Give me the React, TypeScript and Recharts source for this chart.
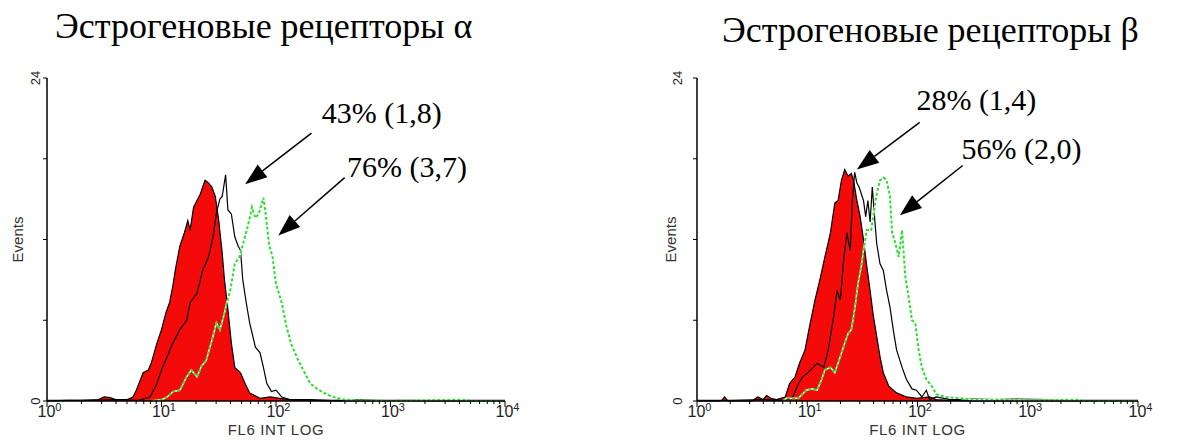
import { ComposedChart, Area, Line, XAxis, YAxis, ReferenceLine, ReferenceDot } from 'recharts'

type Pt = [number, number]

// x = log10 of FL6 intensity (0..4 decades), y = events
const alphaControl: Pt[] = [
  [0, 0], [0.17, 0.05], [0.3, 0.05], [0.45, 0.1], [0.5, 0.3], [0.55, 0.25], [0.6, 0.1], [0.7, 0.1],
  [0.75, 0.3], [0.78, 0.8], [0.84, 2.1], [0.885, 2.3], [0.91, 2.8], [0.96, 4.3], [1.0, 5.3], [1.04, 6.6],
  [1.07, 7.3], [1.1, 8.6], [1.12, 9.7], [1.16, 11.5], [1.2, 12.5], [1.23, 13.4], [1.25, 12.7], [1.28, 14.4],
  [1.31, 14.9], [1.34, 15.4], [1.38, 16.4], [1.41, 16.2], [1.44, 15.9], [1.47, 15.2], [1.5, 13.4], [1.53, 11.0],
  [1.55, 9.0], [1.58, 6.8], [1.61, 4.3], [1.64, 2.5], [1.69, 2.1], [1.73, 1.3], [1.77, 0.6], [1.86, 0.2],
  [1.95, 0.3], [2.03, 0.2], [2.12, 0.1], [2.3, 0.05], [2.5, 0], [4, 0],
]
const alphaLow: Pt[] = [
  [0, 0.05], [0.2, 0.05], [0.4, 0.05], [0.6, 0.1], [0.8, 0.05], [0.9, 0.3], [0.96, 1.3], [1.0, 2.3],
  [1.05, 3.3], [1.1, 4.3], [1.16, 5.3], [1.22, 6.0], [1.25, 7.3], [1.31, 8.0], [1.36, 9.7], [1.41, 10.7],
  [1.45, 12.2], [1.48, 14.0], [1.51, 15.0], [1.53, 15.2], [1.56, 16.8], [1.58, 14.2], [1.61, 13.9], [1.64, 12.2],
  [1.67, 11.5], [1.69, 11.2], [1.71, 9.0], [1.74, 7.3], [1.77, 5.8], [1.82, 4.0], [1.86, 3.6], [1.89, 2.5],
  [1.92, 1.3], [1.96, 0.7], [2.0, 0.8], [2.05, 0.3], [2.12, 0.1], [2.3, 0.1], [2.5, 0.05], [2.7, 0.1],
  [2.9, 0.05], [3.2, 0.05], [3.6, 0.05], [4, 0.05],
]
const alphaHigh: Pt[] = [
  [0.9, 0], [1.0, 0.1], [1.05, 0.3], [1.1, 0.7], [1.16, 0.8], [1.22, 1.8], [1.26, 2.3], [1.31, 1.8],
  [1.35, 2.6], [1.39, 3.0], [1.44, 4.5], [1.48, 5.8], [1.51, 5.3], [1.54, 6.2], [1.57, 7.3], [1.6, 8.2],
  [1.64, 10.2], [1.68, 10.7], [1.72, 11.9], [1.76, 13.2], [1.79, 14.4], [1.82, 13.6], [1.85, 13.9], [1.89, 15.1],
  [1.91, 13.9], [1.94, 11.6], [1.97, 10.7], [2.0, 8.7], [2.05, 7.3], [2.09, 5.6], [2.13, 4.3], [2.19, 3.1],
  [2.25, 2.1], [2.3, 1.3], [2.36, 0.9], [2.42, 0.6], [2.47, 0.4], [2.52, 0.25], [2.6, 0.1], [2.7, 0.05],
  [3.0, 0], [3.6, 0.1], [3.7, 0], [4, 0],
]

const betaControl: Pt[] = [
  [0, 0], [0.22, 0], [0.25, 0.3], [0.28, 0], [0.5, 0], [0.55, 0.3], [0.6, 0.1], [0.63, 0.4], [0.67, 0.2],
  [0.72, 0.1], [0.8, 0.3], [0.84, 1.3], [0.89, 1.8], [0.93, 2.8], [0.98, 3.8], [1.02, 5.5], [1.07, 7.5],
  [1.12, 9.2], [1.16, 10.7], [1.21, 12.5], [1.25, 14.7], [1.28, 14.9], [1.31, 16.4], [1.34, 17.2], [1.37, 16.7],
  [1.4, 16.9], [1.42, 16.4], [1.45, 14.9], [1.48, 13.7], [1.51, 12.0], [1.54, 10.0], [1.57, 8.2], [1.6, 6.3],
  [1.63, 4.8], [1.66, 3.3], [1.69, 2.1], [1.74, 1.1], [1.81, 0.6], [1.9, 0.3], [1.99, 0.2], [2.11, 0.3],
  [2.17, 0.1], [2.3, 0.05], [2.5, 0], [4, 0],
]
const betaLow: Pt[] = [
  [0, 0.05], [0.3, 0.05], [0.6, 0.1], [0.8, 0.05], [0.87, 0.3], [0.92, 1.3], [0.96, 1.8], [1.02, 2.2],
  [1.09, 2.8], [1.15, 2.5], [1.19, 3.8], [1.24, 6.3], [1.27, 8.2], [1.3, 7.5], [1.33, 10.5], [1.36, 12.5],
  [1.39, 11.2], [1.41, 15.0], [1.43, 17.0], [1.45, 16.2], [1.47, 15.9], [1.51, 14.9], [1.53, 13.7], [1.55, 14.9],
  [1.57, 13.3], [1.59, 15.9], [1.61, 13.7], [1.63, 11.7], [1.66, 10.2], [1.69, 9.7], [1.72, 8.2], [1.75, 7.0],
  [1.78, 5.3], [1.81, 3.8], [1.86, 2.5], [1.9, 1.6], [1.95, 0.9], [1.99, 0.8], [2.04, 0.3], [2.08, 0.8],
  [2.11, 0.1], [2.17, 0.3], [2.3, 0.1], [2.5, 0.15], [2.7, 0.1], [2.9, 0.15], [3.2, 0.1], [3.5, 0.05], [4, 0.05],
]
const betaHigh: Pt[] = [
  [0.78, 0], [0.81, 0.2], [0.92, 0.2], [0.99, 0.8], [1.04, 0.9], [1.09, 0.8], [1.13, 1.6], [1.16, 2.3],
  [1.21, 2.5], [1.25, 2.1], [1.3, 3.3], [1.34, 4.3], [1.37, 5.0], [1.4, 5.3], [1.43, 6.8], [1.46, 8.7],
  [1.49, 10.0], [1.51, 11.2], [1.54, 12.7], [1.58, 12.7], [1.63, 15.4], [1.66, 16.4], [1.69, 16.6], [1.72, 16.4],
  [1.75, 15.2], [1.77, 12.5], [1.8, 11.7], [1.83, 10.7], [1.86, 12.7], [1.87, 11.5], [1.89, 9.2], [1.92, 7.7],
  [1.95, 6.0], [1.98, 5.8], [2.01, 3.8], [2.04, 2.5], [2.08, 1.6], [2.13, 1.1], [2.17, 0.5], [2.26, 0.3],
  [2.39, 0.2], [2.5, 0.1], [2.7, 0.1], [3.0, 0.05], [3.45, 0.1], [3.5, 0], [4, 0],
]

const titles = ['Эстрогеновые рецепторы α', 'Эстрогеновые рецепторы β']
const yTicks = [0, 6, 12, 18, 24]
const decades = [0, 1, 2, 3]
const xTicks = [...decades.flatMap((d) => [1, 2, 3, 4, 5, 6, 7, 8, 9].map((k) => d + Math.log10(k))), 4]

type Note = { text: string; at: Pt; from: Pt; to: Pt }
const alphaNotes: Note[] = [
  { text: '43% (1,8)', at: [2.4, 20.65], from: [2.31, 19.9], to: [1.73, 16.1] },
  { text: '76% (3,7)', at: [2.62, 16.64], from: [2.6, 16.6], to: [2.02, 12.3] },
]
const betaNotes: Note[] = [
  { text: '28% (1,4)', at: [1.99, 21.6], from: [2.02, 20.7], to: [1.45, 17.2] },
  { text: '56% (2,0)', at: [2.4, 18.0], from: [2.41, 17.5], to: [1.84, 13.8] },
]

const sans = 'Liberation Sans, Arial, sans-serif'
const serif = 'Liberation Serif, Times New Roman, serif'

function mergeSeries(series: Record<string, Pt[]>) {
  const map = new Map<number, Record<string, number>>()
  for (const [key, pts] of Object.entries(series)) {
    for (const [x, y] of pts) {
      const row = map.get(x) ?? { x }
      row[key] = y
      map.set(x, row)
    }
  }
  return [...map.values()].sort((a, b) => a.x - b.x)
}

function LogTick({ x, y, payload }: any) {
  const v = payload.value
  const major = Math.abs(v - Math.round(v)) < 1e-9
  return (
    <g>
      <line x1={x} y1={y} x2={x} y2={y + (major ? 6 : 3)} stroke='#000' strokeWidth={1} />
      {major && (
        <text x={x - 9.5} y={y + 16} fontSize={16} fontFamily={sans} fill='#222'>
          10
          <tspan dy={-6} fontSize={11}>{Math.round(v)}</tspan>
        </text>
      )}
    </g>
  )
}

function makeYTick(gap: number) {
  return ({ x, y, payload }: any) => {
    const v = payload.value
    const show = v === 0 || v === 24
    return (
      <g>
        <line x1={x} y1={y} x2={x - 4} y2={y} stroke='#000' strokeWidth={1} />
        {show && (
          <text x={x - gap} y={y} transform={`rotate(-90, ${x - gap}, ${y})`} textAnchor='middle'
            dominantBaseline='central' fontSize={13} fontFamily={sans} fill='#222'>
            {v}
          </text>
        )}
      </g>
    )
  }
}

function ArrowShape(props: any) {
  const { x1, y1, x2, y2 } = props
  const dx = x2 - x1
  const dy = y2 - y1
  const len = Math.sqrt(dx * dx + dy * dy)
  const ux = dx / len
  const uy = dy / len
  const head = 22
  const half = 8
  const bx = x2 - ux * head
  const by = y2 - uy * head
  return (
    <g>
      <line x1={x1} y1={y1} x2={bx} y2={by} stroke='#000' strokeWidth={1.5} />
      <polygon points={`${x2},${y2} ${bx - uy * half},${by + ux * half} ${bx + uy * half},${by - ux * half}`} fill='#000' />
    </g>
  )
}

function Histogram({ control, low, high, notes, width, marginLeft, marginRight, labelGap, eventsGap }: any) {
  const data = mergeSeries({ control, low, high })
  return (
    <ComposedChart width={width} height={381} data={data}
      margin={{ top: 18, right: marginRight, bottom: 0, left: marginLeft }}>
      <XAxis dataKey='x' type='number' domain={[0, 4]} ticks={xTicks} tick={<LogTick />} tickSize={0} tickMargin={0}
        tickLine={false} interval={0} height={40} axisLine={{ stroke: '#000', strokeWidth: 1.5 }}
        label={{
          content: ({ viewBox }: any) => (
            <text x={viewBox.x + viewBox.width / 2} y={viewBox.y + 34} textAnchor='middle' fontSize={15}
              fontFamily={sans} fill='#333' letterSpacing={0.6}>
              FL6 INT LOG
            </text>
          ),
        }} />
      <YAxis type='number' domain={[0, 24]} ticks={yTicks} tick={makeYTick(labelGap)} tickSize={0} tickMargin={0}
        tickLine={false} width={30} interval={0} axisLine={{ stroke: '#000', strokeWidth: 1.5 }}
        label={{
          content: ({ viewBox }: any) => {
            const cx = viewBox.x + viewBox.width - eventsGap
            const cy = viewBox.y + viewBox.height / 2
            return (
              <text x={cx} y={cy} transform={`rotate(-90, ${cx}, ${cy})`} textAnchor='middle' dominantBaseline='central'
                fontSize={15} fontFamily={sans} fill='#333'>
                Events
              </text>
            )
          },
        }} />
      <Area dataKey='control' type='linear' fill='#f50a0a' fillOpacity={1} stroke='#000' strokeWidth={1.2}
        baseValue={0} connectNulls isAnimationActive={false} dot={false} activeDot={false} />
      <Line dataKey='low' type='linear' stroke='#000' strokeWidth={1.2} connectNulls dot={false}
        activeDot={false} isAnimationActive={false} />
      <Line dataKey='high' type='linear' stroke='#fff' strokeWidth={1.5} connectNulls dot={false}
        activeDot={false} isAnimationActive={false} />
      <Line dataKey='high' type='linear' stroke='#2ee02e' strokeWidth={2} strokeDasharray='3 2' connectNulls
        dot={false} activeDot={false} isAnimationActive={false} />
      {notes.map((n: Note) => (
        <ReferenceLine key={`a-${n.text}`} ifOverflow='visible'
          segment={[{ x: n.from[0], y: n.from[1] }, { x: n.to[0], y: n.to[1] }]} shape={ArrowShape} />
      ))}
      {notes.map((n: Note) => (
        <ReferenceDot key={`t-${n.text}`} x={n.at[0]} y={n.at[1]} ifOverflow='visible'
          shape={(p: any) => (
            <text x={p.cx} y={p.cy} fontSize={30} fontFamily={serif} fill='#000'>{n.text}</text>
          )} />
      ))}
    </ComposedChart>
  )
}

export default function App() {
  return (
    <div style={{ position: 'absolute', left: 0, top: 0, width: 1185, height: 441, background: '#fff' }}>
      <svg width={1185} height={60} style={{ position: 'absolute', left: 0, top: 0 }}>
        <text x={55} y={38} fontSize={36} fontFamily={serif} fill='#000'>{titles[0]}</text>
        <text x={722} y={42} fontSize={36} fontFamily={serif} fill='#000'>{titles[1]}</text>
      </svg>
      <div style={{ position: 'absolute', left: 0, top: 60 }}>
        <Histogram control={alphaControl} low={alphaLow} high={alphaHigh} notes={alphaNotes} width={560}
          marginLeft={17} marginRight={55} labelGap={12} eventsGap={30} />
      </div>
      <div style={{ position: 'absolute', left: 640, top: 60 }}>
        <Histogram control={betaControl} low={betaLow} high={betaHigh} notes={betaNotes} width={545}
          marginLeft={27} marginRight={47} labelGap={20} eventsGap={27} />
      </div>
    </div>
  )
}
